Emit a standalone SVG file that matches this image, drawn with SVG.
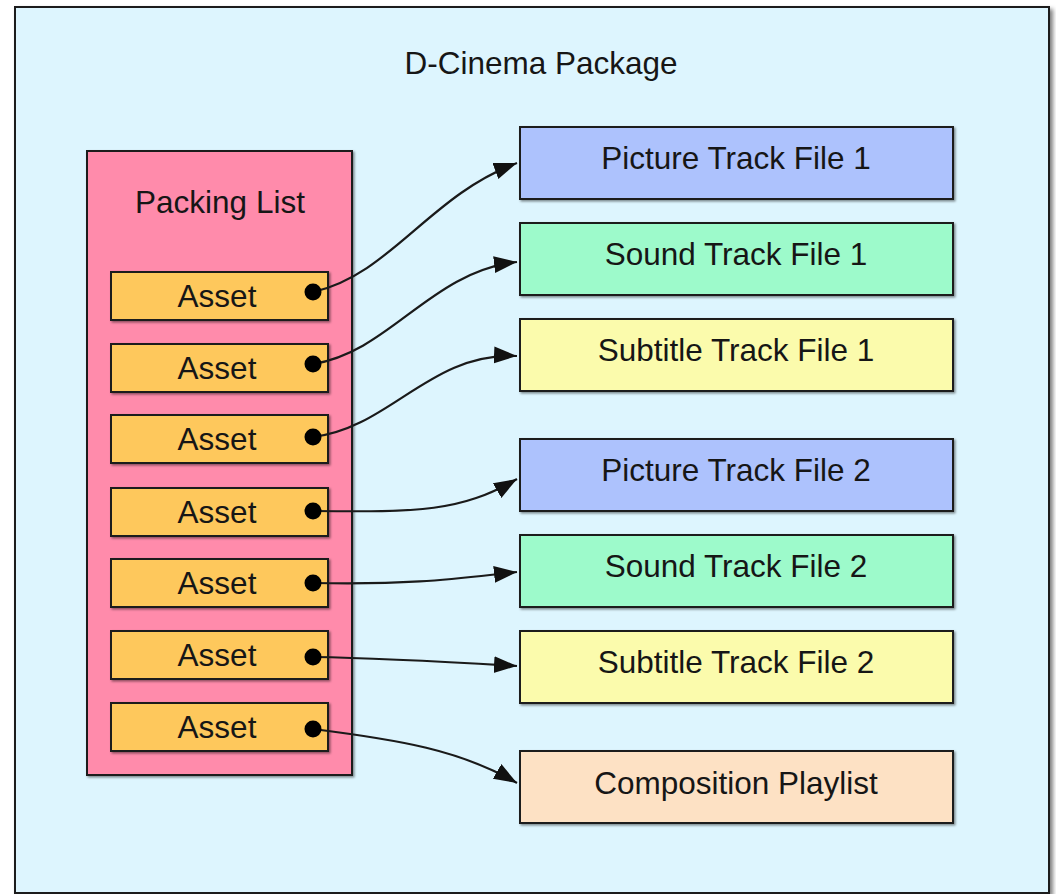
<svg xmlns="http://www.w3.org/2000/svg" width="1056" height="894" viewBox="0 0 1056 894">
<style>
text{font-family:"Liberation Sans",Arial,sans-serif;font-size:31.5px;fill:#161616;text-anchor:middle}
.box{stroke:#1e1e1e;stroke-width:2}
.pkg{fill:#ddf5fe}
.pl{fill:#ff8bab}
.asset{fill:#fec85b}
.pic{fill:#adc2fd}
.snd{fill:#9dfacb}
.sub{fill:#fbfbac}
.cpl{fill:#fde1c4}
.conn{fill:none;stroke:#1a1a1a;stroke-width:2.2;marker-end:url(#arrow)}
.dot{fill:#000}
</style>
<defs>
<filter id="sh" x="-5%" y="-5%" width="115%" height="115%">
<feDropShadow dx="1.5" dy="1.5" stdDeviation="1" flood-color="#000" flood-opacity="0.45"/>
</filter>
<filter id="shbig" x="-2%" y="-2%" width="105%" height="105%">
<feDropShadow dx="3" dy="3" stdDeviation="2" flood-color="#000" flood-opacity="0.5"/>
</filter>
<marker id="arrow" markerUnits="userSpaceOnUse" markerWidth="24" markerHeight="18" refX="23" refY="8.5" orient="auto">
<path d="M0,0 L23,8.5 L0,17 Z" fill="#111"/>
</marker>
</defs>
<g id="package">
<rect class="box pkg" x="15" y="7" width="1034" height="886" filter="url(#shbig)"/>
<text x="541" y="74">D-Cinema Package</text>
</g>
<g id="packing-list">
<rect class="box pl" x="87" y="151" width="265" height="624" filter="url(#sh)"/>
<text x="220" y="213">Packing List</text>
</g>
<g id="asset1"><rect class="box asset" x="111" y="272" width="217" height="48" filter="url(#sh)"/><text x="217" y="307">Asset</text></g>
<g id="asset2"><rect class="box asset" x="111" y="344" width="217" height="48" filter="url(#sh)"/><text x="217" y="379">Asset</text></g>
<g id="asset3"><rect class="box asset" x="111" y="415" width="217" height="48" filter="url(#sh)"/><text x="217" y="450">Asset</text></g>
<g id="asset4"><rect class="box asset" x="111" y="488" width="217" height="48" filter="url(#sh)"/><text x="217" y="523">Asset</text></g>
<g id="asset5"><rect class="box asset" x="111" y="559" width="217" height="48" filter="url(#sh)"/><text x="217" y="594">Asset</text></g>
<g id="asset6"><rect class="box asset" x="111" y="631" width="217" height="48" filter="url(#sh)"/><text x="217" y="666">Asset</text></g>
<g id="asset7"><rect class="box asset" x="111" y="703" width="217" height="48" filter="url(#sh)"/><text x="217" y="738">Asset</text></g>
<g id="picture1"><rect class="box pic" x="520" y="127" width="433" height="72" filter="url(#sh)"/><text x="736" y="169">Picture Track File 1</text></g>
<g id="sound1"><rect class="box snd" x="520" y="223" width="433" height="72" filter="url(#sh)"/><text x="736" y="265">Sound Track File 1</text></g>
<g id="subtitle1"><rect class="box sub" x="520" y="319" width="433" height="72" filter="url(#sh)"/><text x="736" y="361">Subtitle Track File 1</text></g>
<g id="picture2"><rect class="box pic" x="520" y="439" width="433" height="72" filter="url(#sh)"/><text x="736" y="481">Picture Track File 2</text></g>
<g id="sound2"><rect class="box snd" x="520" y="535" width="433" height="72" filter="url(#sh)"/><text x="736" y="577">Sound Track File 2</text></g>
<g id="subtitle2"><rect class="box sub" x="520" y="631" width="433" height="72" filter="url(#sh)"/><text x="736" y="673">Subtitle Track File 2</text></g>
<g id="cpl"><rect class="box cpl" x="520" y="751" width="433" height="72" filter="url(#sh)"/><text x="736" y="794">Composition Playlist</text></g>
<g id="connectors">
<path class="conn" d="M313,292 C390,275 430,195 517,163"/>
<path class="conn" d="M313,364 C390,352 430,272 517,262"/>
<path class="conn" d="M313,437 C390,428 430,352 517,356"/>
<path class="conn" d="M313,511 C420,512 460,512 517,479"/>
<path class="conn" d="M313,583 C420,585 460,578 517,572"/>
<path class="conn" d="M313,657 C380,658 450,662 517,666"/>
<path class="conn" d="M313,729 C400,740 460,750 517,783"/>
<circle class="dot" cx="313" cy="292" r="8.5"/>
<circle class="dot" cx="313" cy="364" r="8.5"/>
<circle class="dot" cx="313" cy="437" r="8.5"/>
<circle class="dot" cx="313" cy="511" r="8.5"/>
<circle class="dot" cx="313" cy="583" r="8.5"/>
<circle class="dot" cx="313" cy="657" r="8.5"/>
<circle class="dot" cx="313" cy="729" r="8.5"/>
</g>
</svg>
